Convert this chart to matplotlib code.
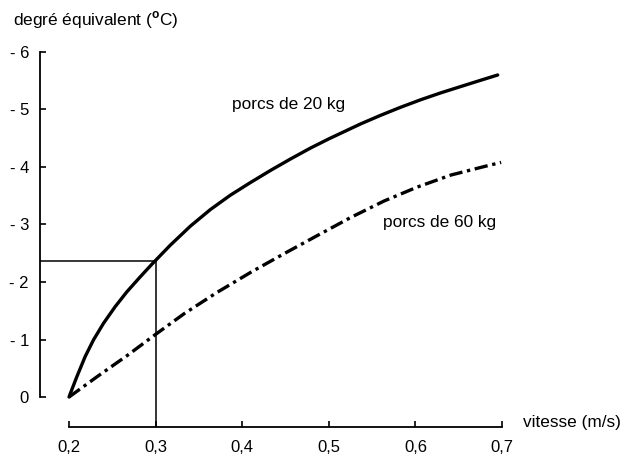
import matplotlib
matplotlib.use("Agg")
import matplotlib.pyplot as plt

plt.rcParams['font.family'] = ['Liberation Sans', 'DejaVu Sans']
plt.rcParams['mathtext.fontset'] = 'custom'
plt.rcParams['mathtext.rm'] = 'Liberation Sans'
plt.rcParams['mathtext.bf'] = 'Liberation Sans:bold'

# Data (y values are degrees below zero, shown as "- n")
x20 = [0.2, 0.2012, 0.2089, 0.2185, 0.2281, 0.2397, 0.2532, 0.2668, 0.2822, 0.2957,
       0.3169, 0.340, 0.3632, 0.3863, 0.4095, 0.4326, 0.4558, 0.4789, 0.5001,
       0.5368, 0.560, 0.5831, 0.6062, 0.6294, 0.6525, 0.6757, 0.695]
y20 = [0.0, 0.05, 0.35, 0.70, 0.99, 1.28, 1.57, 1.83, 2.09, 2.31,
       2.64, 2.97, 3.26, 3.51, 3.73, 3.94, 4.14, 4.33, 4.49,
       4.75, 4.90, 5.04, 5.17, 5.29, 5.40, 5.51, 5.60]
x60 = [0.2, 0.233, 0.267, 0.3, 0.333, 0.371, 0.41, 0.448, 0.487, 0.525,
       0.564, 0.602, 0.641, 0.68, 0.699]
y60 = [0.0, 0.36, 0.72, 1.09, 1.45, 1.82, 2.17, 2.49, 2.81, 3.12,
       3.41, 3.65, 3.86, 4.01, 4.08]
ref_x = 0.3
ref_y = 2.36
xticks = [0.2, 0.3, 0.4, 0.5, 0.6, 0.7]
xticklabels = ["0,2", "0,3", "0,4", "0,5", "0,6", "0,7"]
yticks = [0, 1, 2, 3, 4, 5, 6]
yticklabels = ["0", "- 1", "- 2", "- 3", "- 4", "- 5", "- 6"]

fig = plt.figure(figsize=(6.24, 4.57), dpi=100)
W, H = 624, 457
left, right, bottom, top = 40, 502, 427, 52
ax = fig.add_axes([left / W, 1 - bottom / H, (right - left) / W, (bottom - top) / H])

xmin = 0.2 - (69 - left) / 864.0
ymin = -(bottom - 397) / 57.5
ax.set_xlim(xmin, 0.7)
ax.set_ylim(ymin, 6.0)

ax.plot(x20, y20, color='black', lw=2.4, solid_capstyle='round', solid_joinstyle='round')
ax.plot(x60, y60, color='black', lw=2.4, dashes=(4, 1.4, 1, 1.4))

ax.plot([xmin, ref_x], [ref_y, ref_y], color='black', lw=1.1)
ax.plot([ref_x, ref_x], [ymin, ref_y], color='black', lw=1.1)

for s in ['top', 'right']:
    ax.spines[s].set_visible(False)
ax.spines['left'].set_bounds(0, 6)
ax.spines['bottom'].set_bounds(0.2, 0.7)
ax.spines['left'].set_linewidth(1.3)
ax.spines['bottom'].set_linewidth(1.3)

ax.set_xticks(xticks)
ax.set_xticklabels(xticklabels)
ax.set_yticks(yticks)
ax.set_yticklabels(yticklabels)
ax.tick_params(axis='x', direction='in', length=4, width=1.2, pad=9, labelsize=12)
ax.tick_params(axis='y', direction='in', length=4, width=1.2, pad=8, labelsize=12)

fig.text(13 / W, 1 - 20 / H, r"degré équivalent ($^\mathbf{o}$C)", fontsize=12.4,
         ha='left', va='center')
fig.text(232 / W, 1 - 105 / H, "porcs de 20 kg", fontsize=12.4, ha='left', va='center')
fig.text(383 / W, 1 - 223 / H, "porcs de 60 kg", fontsize=12.4, ha='left', va='center')
fig.text(523 / W, 1 - 422 / H, "vitesse (m/s)", fontsize=12.4, ha='left', va='center')

fig.savefig("out.png", dpi=100)
